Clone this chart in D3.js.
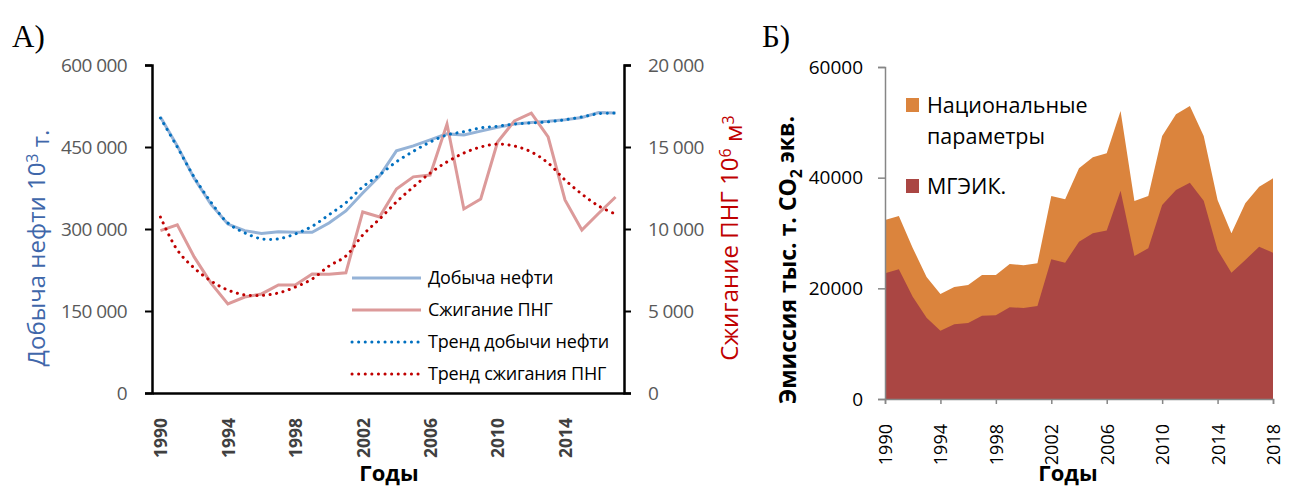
<!DOCTYPE html>
<html>
<head>
<meta charset="utf-8">
<script src="https://cdn.jsdelivr.net/npm/d3@7"></script>
<style>
  body { margin: 0; background: #fff; }
  text { font-family: "Open Sans", "Noto Sans", sans-serif; }
</style>
</head>
<body>
<svg id="chart" width="1289" height="487"></svg>
<script>
// ---- panel A: oil production and associated gas flaring ----
const yearsA = [1990, 1991, 1992, 1993, 1994, 1995, 1996, 1997, 1998, 1999,
                2000, 2001, 2002, 2003, 2004, 2005, 2006, 2007, 2008, 2009,
                2010, 2011, 2012, 2013, 2014, 2015, 2016, 2017];
const oil = [505000, 452000, 393000, 345000, 309000, 297000, 292000, 295000, 294000, 294000,
             311000, 333000, 366000, 397000, 443000, 452000, 463000, 474000, 472000, 479000,
             486000, 492000, 495000, 497000, 500000, 504000, 513000, 512000];
const flaring = [9900, 10250, 8300, 6700, 5430, 5850, 6040, 6590, 6590, 7260,
                 7240, 7330, 11040, 10740, 12440, 13180, 13290, 16400, 11220, 11830,
                 15300, 16590, 17070, 15610, 11770, 9940, 10960, 11950];
const oilTrend = [503000, 450000, 395000, 349000, 311000, 293000, 282000, 282000, 291000, 305000,
                  326000, 348000, 377000, 399000, 423000, 442000, 459000, 472000, 478000, 485000,
                  488000, 492000, 494000, 496000, 500000, 505000, 511000, 512000];
const flaringTrend = [10730, 8720, 7620, 6830, 6280, 5980, 5950, 6100, 6460, 6950,
                      7740, 8350, 9630, 10610, 11650, 12560, 13410, 14090, 14630, 15000,
                      15180, 15060, 14700, 14020, 12990, 12130, 11400, 10910];
const oilTicks = [0, 150000, 300000, 450000, 600000];
const flaringTicks = [0, 5000, 10000, 15000, 20000];
const yearLabelsA = [1990, 1994, 1998, 2002, 2006, 2010, 2014];

// ---- panel B: emissions ----
const yearsB = [1990, 1991, 1992, 1993, 1994, 1995, 1996, 1997, 1998, 1999,
                2000, 2001, 2002, 2003, 2004, 2005, 2006, 2007, 2008, 2009,
                2010, 2011, 2012, 2013, 2014, 2015, 2016, 2017, 2018];
const national = [32350, 33070, 27300, 22050, 18980, 20240, 20600, 22410, 22410, 24400,
                  24160, 24520, 36690, 36080, 41690, 43680, 44400, 52050, 35780, 36690,
                  47530, 51450, 52950, 47530, 35960, 29950, 35360, 38370, 39880];
const ipcc = [22710, 23430, 18490, 14700, 12350, 13490, 13730, 15060, 15120, 16570,
              16450, 16810, 25240, 24640, 28430, 29950, 30450, 37650, 25840, 27230,
              35060, 37770, 39090, 35840, 26930, 22830, 25120, 27530, 26440];
const emissionTicks = [0, 20000, 40000, 60000];
const yearLabelsB = [1990, 1994, 1998, 2002, 2006, 2010, 2014, 2018];

const svg = d3.select("#chart");
const ru = d3.formatLocale({ decimal: ",", thousands: "\u00a0", grouping: [3], currency: ["", ""] });
const fmtSpace = ru.format(",");

// ================= Panel A =================
const a = { left: 152, right: 624, top: 65, bottom: 393 };

const x = d3.scalePoint()
    .domain(yearsA)
    .range([a.left, a.right])
    .padding(0.5);

const yL = d3.scaleLinear().domain([0, 600000]).range([a.bottom, a.top]);
const yR = d3.scaleLinear().domain([0, 20000]).range([a.bottom, a.top]);

svg.append("text")
    .attr("x", 12).attr("y", 47)
    .style("font-family", "'Liberation Serif', 'DejaVu Serif', serif")
    .style("font-size", "31px")
    .text("А)");

// series
const lineL = d3.line().x((d, i) => x(yearsA[i])).y(d => yL(d));
const lineR = d3.line().x((d, i) => x(yearsA[i])).y(d => yR(d));
const smoothL = d3.line().x((d, i) => x(yearsA[i])).y(d => yL(d)).curve(d3.curveCatmullRom);
const smoothR = d3.line().x((d, i) => x(yearsA[i])).y(d => yR(d)).curve(d3.curveCatmullRom);

svg.append("path").datum(oil)
    .attr("d", lineL)
    .attr("fill", "none").attr("stroke", "#95b3d7").attr("stroke-width", 3);

svg.append("path").datum(flaring)
    .attr("d", lineR)
    .attr("fill", "none").attr("stroke", "#dc9a9a").attr("stroke-width", 3);

svg.append("path").datum(oilTrend)
    .attr("d", smoothL)
    .attr("fill", "none").attr("stroke", "#0070c0").attr("stroke-width", 3)
    .attr("stroke-linecap", "round").attr("stroke-dasharray", "0.1 6.5");

svg.append("path").datum(flaringTrend)
    .attr("d", smoothR)
    .attr("fill", "none").attr("stroke", "#c00000").attr("stroke-width", 3)
    .attr("stroke-linecap", "round").attr("stroke-dasharray", "0.1 6.5");

// axes
const axL = svg.append("g")
    .attr("transform", "translate(" + a.left + ",0)")
    .call(d3.axisLeft(yL).tickValues(oilTicks).tickSize(7).tickPadding(18).tickFormat(fmtSpace));

const axR = svg.append("g")
    .attr("transform", "translate(" + a.right + ",0)")
    .call(d3.axisRight(yR).tickValues(flaringTicks).tickSize(7).tickPadding(17).tickFormat(fmtSpace));

const axB = svg.append("g")
    .attr("transform", "translate(0," + a.bottom + ")")
    .call(d3.axisBottom(x).tickValues(yearLabelsA).tickSize(0));

[axL, axR].forEach(function(g) {
    g.select(".domain").attr("stroke", "#000").attr("stroke-width", 2.5);
    g.selectAll(".tick line").attr("stroke", "#000").attr("stroke-width", 2);
    g.selectAll(".tick text")
        .attr("fill", "#595959")
        .style("font-size", "19px")
        .style("letter-spacing", "-0.6px");
});

axB.select(".domain").attr("stroke", "#000").attr("stroke-width", 2.5);
axB.selectAll(".tick text")
    .attr("transform", "rotate(-90)")
    .attr("x", -25).attr("y", 0).attr("dy", "0.36em")
    .attr("text-anchor", "end")
    .attr("fill", "#404040")
    .style("font-size", "17.5px")
    .style("font-weight", "bold");

// axis titles
svg.append("text")
    .attr("transform", "translate(45,248) rotate(-90)")
    .attr("text-anchor", "middle")
    .attr("fill", "#3f67aa")
    .style("font-size", "24px")
    .call(function(t) {
        t.append("tspan").text("Добыча нефти 10");
        t.append("tspan").attr("dy", "-0.45em").style("font-size", "16px").text("3");
        t.append("tspan").attr("dy", "0.45em").text(" т.");
    });

svg.append("text")
    .attr("transform", "translate(738,238) rotate(-90)")
    .attr("text-anchor", "middle")
    .attr("fill", "#c00000")
    .style("font-size", "24px")
    .call(function(t) {
        t.append("tspan").text("Сжигание ПНГ 10");
        t.append("tspan").attr("dy", "-0.45em").style("font-size", "16px").text("6");
        t.append("tspan").attr("dy", "0.45em").text(" м");
        t.append("tspan").attr("dy", "-0.45em").style("font-size", "16px").text("3");
    });

svg.append("text")
    .attr("x", 389).attr("y", 481)
    .attr("text-anchor", "middle")
    .style("font-size", "22px").style("font-weight", "bold")
    .text("Годы");

// legend A
const legendA = [
    { label: "Добыча нефти", color: "#95b3d7", dash: null },
    { label: "Сжигание ПНГ", color: "#dc9a9a", dash: null },
    { label: "Тренд добычи нефти", color: "#0070c0", dash: "0.1 6.5" },
    { label: "Тренд сжигания ПНГ", color: "#c00000", dash: "0.1 6.5" }
];
const lg = svg.append("g").selectAll("g")
    .data(legendA)
    .enter().append("g")
        .attr("transform", (d, i) => "translate(352," + (278 + i * 32) + ")");
lg.append("line")
    .attr("x1", 0).attr("x2", 69)
    .attr("stroke", d => d.color).attr("stroke-width", 3)
    .attr("stroke-linecap", d => d.dash ? "round" : "butt")
    .attr("stroke-dasharray", d => d.dash);
lg.append("text")
    .attr("x", 76).attr("dy", "0.35em")
    .style("font-size", "18px")
    .style("letter-spacing", "-0.2px")
    .text(d => d.label);

// ================= Panel Б =================
const b = { left: 885, right: 1273, top: 67, bottom: 399 };

const xb = d3.scaleLinear().domain([1990, 2018]).range([b.left, b.right]);
const yb = d3.scaleLinear().domain([0, 60000]).range([b.bottom, b.top]);

svg.append("text")
    .attr("x", 762).attr("y", 47)
    .style("font-family", "'Liberation Serif', 'DejaVu Serif', serif")
    .style("font-size", "31px")
    .text("Б)");

const areaB = d3.area()
    .x((d, i) => xb(yearsB[i]))
    .y0(yb(0))
    .y1(d => yb(d));

svg.append("path").datum(national)
    .attr("d", areaB)
    .attr("fill", "#db843d");

svg.append("path").datum(ipcc)
    .attr("d", areaB)
    .attr("fill", "#aa4643");

const axBL = svg.append("g")
    .attr("transform", "translate(" + b.left + ",0)")
    .call(d3.axisLeft(yb).tickValues(emissionTicks).tickSize(7).tickPadding(15).tickFormat(d3.format("d")));

const axBB = svg.append("g")
    .attr("transform", "translate(0," + b.bottom + ")")
    .call(d3.axisBottom(xb).tickValues(yearLabelsB).tickSize(5).tickFormat(d3.format("d")));

[axBL, axBB].forEach(function(g) {
    g.select(".domain").attr("stroke", "#868686").attr("stroke-width", 1.5);
    g.selectAll(".tick line").attr("stroke", "#868686").attr("stroke-width", 1.5);
});
axBL.selectAll(".tick text")
    .attr("fill", "#000")
    .style("font-size", "19px");
axBB.selectAll(".tick text")
    .attr("transform", "rotate(-90)")
    .attr("x", -25).attr("y", 0).attr("dy", "0.36em")
    .attr("text-anchor", "end")
    .attr("fill", "#000")
    .style("font-size", "18px");

svg.append("text")
    .attr("transform", "translate(796,260) rotate(-90)")
    .attr("text-anchor", "middle")
    .style("font-size", "23px").style("font-weight", "bold")
    .call(function(t) {
        t.append("tspan").text("Эмиссия тыс. т. CO");
        t.append("tspan").attr("dy", "0.35em").style("font-size", "16px").text("2");
        t.append("tspan").attr("dy", "-0.35em").text(" экв.");
    });

svg.append("text")
    .attr("x", 1068).attr("y", 481)
    .attr("text-anchor", "middle")
    .style("font-size", "22px").style("font-weight", "bold")
    .text("Годы");

// legend Б
const legendB = [
    { lines: ["Национальные", "параметры"], color: "#db843d", y: 105 },
    { lines: ["МГЭИК."], color: "#aa4643", y: 186 }
];
const lgb = svg.append("g").selectAll("g")
    .data(legendB)
    .enter().append("g")
        .attr("transform", d => "translate(906," + d.y + ")");
lgb.append("rect")
    .attr("x", 0).attr("y", -7).attr("width", 13).attr("height", 14)
    .attr("fill", d => d.color);
lgb.append("text")
    .attr("x", 21)
    .style("font-size", "21.5px")
    .selectAll("tspan")
    .data(d => d.lines)
    .enter().append("tspan")
        .attr("x", 21)
        .attr("y", (d, i) => 8 + i * 31)
        .text(d => d);
</script>
</body>
</html>
